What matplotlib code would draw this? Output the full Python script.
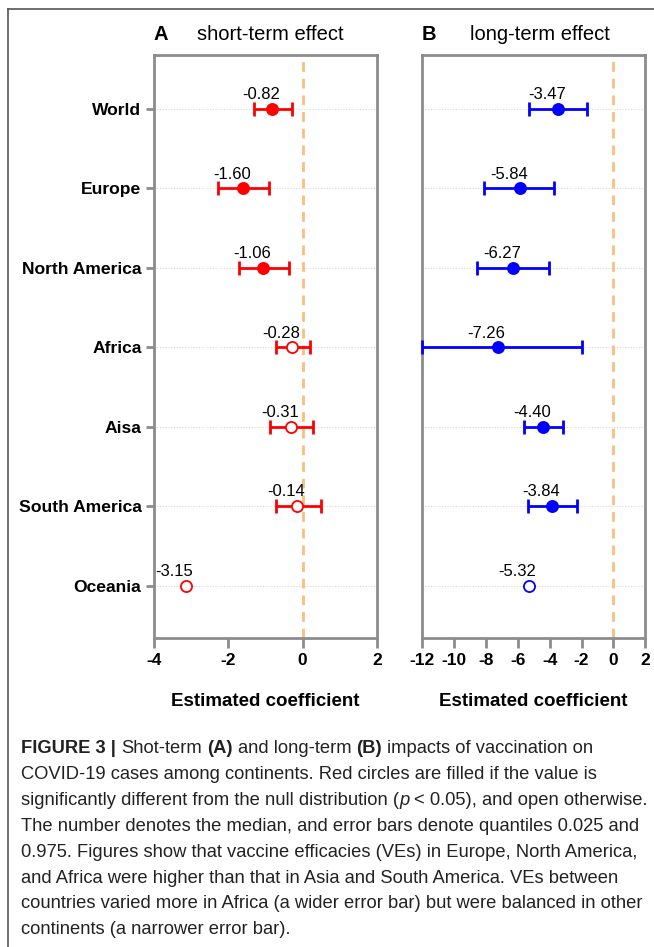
import matplotlib
matplotlib.use("Agg")
import matplotlib.pyplot as plt
from matplotlib import font_manager
from matplotlib.lines import Line2D

# ---------------- data ----------------
continents = ["World", "Europe", "North America", "Africa", "Aisa", "South America", "Oceania"]

short_median = [-0.82, -1.60, -1.06, -0.28, -0.31, -0.14, -3.15]
short_low = [-1.31, -2.29, -1.71, -0.73, -0.88, -0.73, None]
short_high = [-0.30, -0.91, -0.38, 0.20, 0.28, 0.48, None]
short_sig = [True, True, True, False, False, False, False]

long_median = [-3.47, -5.84, -6.27, -7.26, -4.40, -3.84, -5.32]
long_low = [-5.27, -8.11, -8.53, -12.0, -5.58, -5.35, None]
long_high = [-1.67, -3.70, -4.05, -1.94, -3.17, -2.30, None]
long_sig = [True, True, True, True, True, True, False]

xticks_a = [-4, -2, 0, 2]
xticks_b = [-12, -10, -8, -6, -4, -2, 0, 2]

caption_lines = [
    [("FIGURE 3 |", "bold", "normal"), ("Shot-term", "normal", "normal"), ("(A)", "bold", "normal"),
     ("and long-term", "normal", "normal"), ("(B)", "bold", "normal"),
     ("impacts of vaccination on", "normal", "normal")],
    [("COVID-19 cases among continents. Red circles are filled if the value is", "normal", "normal")],
    [("significantly different from the null distribution (", "normal", "normal"), ("p", "normal", "italic"),
     ("< 0.05), and open otherwise.", "normal", "normal")],
    [("The number denotes the median, and error bars denote quantiles 0.025 and", "normal", "normal")],
    [("0.975. Figures show that vaccine efficacies (VEs) in Europe, North America,", "normal", "normal")],
    [("and Africa were higher than that in Asia and South America. VEs between", "normal", "normal")],
    [("countries varied more in Africa (a wider error bar) but were balanced in other", "normal", "normal")],
    [("continents (a narrower error bar).", "normal", "normal")],
]

# ---------------- figure ----------------
W, H = 654, 947
fig = plt.figure(figsize=(W / 100, H / 100), dpi=100)
plt.rcParams["font.family"] = ["Liberation Sans", "DejaVu Sans"]

def px_axes(x0, y0, x1, y1):
    return fig.add_axes([x0 / W, 1 - y1 / H, (x1 - x0) / W, (y1 - y0) / H])

axA = px_axes(154, 55, 377, 638)
axB = px_axes(422, 55, 645.3, 638)

SPINE = "#8c8c8c"
ORANGE = "#F9BF80"

def draw_panel(ax, med, low, high, sig, color, xlim, xticks, show_y):
    ypos = list(range(len(continents)))
    for i in ypos:
        ax.axhline(i, color="#d9d9d9", lw=0.8, ls=(0, (1, 1.5)), zorder=0)
    ax.axvline(0, color=ORANGE, lw=2, ls=(0, (3.5, 2.5)), zorder=1)
    for i, (m, lo, hi, s) in enumerate(zip(med, low, high, sig)):
        if lo is not None:
            ax.errorbar([m], [i], xerr=[[m - lo], [hi - m]], fmt="none", ecolor=color,
                        elinewidth=2, capsize=5, capthick=2, zorder=3, clip_on=False)
        ax.plot([m], [i], "o", ms=8, mfc=color if s else "white", mec=color, mew=1.3, zorder=4)
        ax.annotate(f"{m:.2f}", (m, i), xytext=(-8, 7), textcoords="offset points",
                    ha="center", va="baseline", fontsize=12, color="black")
    ax.set_xlim(*xlim)
    ax.set_ylim(len(continents) - 1 + 0.66, -0.68)
    ax.set_xticks(xticks)
    ax.set_xticklabels([str(t) for t in xticks], fontweight="bold", fontsize=12.5)
    ax.set_yticks(ypos)
    if show_y:
        ax.set_yticklabels(continents, fontweight="bold", fontsize=12.6)
        ax.tick_params(axis="y", length=6, width=2, color=SPINE, pad=3)
    else:
        ax.set_yticklabels([])
        ax.tick_params(axis="y", length=0)
    ax.tick_params(axis="x", length=7, width=2, color=SPINE, pad=4)
    for sp in ax.spines.values():
        sp.set_color(SPINE)
        sp.set_linewidth(2)
    ax.set_xlabel("Estimated coefficient", fontweight="bold", fontsize=13.5, labelpad=18)

draw_panel(axA, short_median, short_low, short_high, short_sig, "#FF0000", (-4, 2), xticks_a, True)
draw_panel(axB, long_median, long_low, long_high, long_sig, "#0000FF", (-12, 2), xticks_b, False)

# titles
fig.text(153 / W, 1 - 34 / H, "A", fontweight="bold", fontsize=14.5, va="center", ha="left")
fig.text(197 / W, 1 - 34 / H, "short-term effect", fontsize=14.5, va="center", ha="left")
fig.text(422 / W, 1 - 34 / H, "B", fontweight="bold", fontsize=14.5, va="center", ha="left")
fig.text(470 / W, 1 - 34 / H, "long-term effect", fontsize=14.5, va="center", ha="left")

# frame lines
fig.add_artist(Line2D([8 / W, 8 / W], [1 - 9 / H, 0], transform=fig.transFigure, color="#555555", lw=1.2))
fig.add_artist(Line2D([8 / W, 1], [1 - 9 / H, 1 - 9 / H], transform=fig.transFigure, color="#555555", lw=1.2))

# caption
avail = {f.name for f in font_manager.fontManager.ttflist}
cap_family = "Liberation Sans Narrow" if "Liberation Sans Narrow" in avail else "Liberation Sans"
renderer = fig.canvas.get_renderer()

def tw(s, size, weight="normal", style="normal"):
    t = fig.text(0, 0, s, fontsize=size, fontweight=weight, fontstyle=style, family=cap_family)
    w = t.get_window_extent(renderer).width
    t.remove()
    return w

cap_size = 12.0
target = 626
line3 = "significantly different from the null distribution (p < 0.05), and open otherwise."
cap_size = cap_size * target / tw(line3, cap_size)
space_w = tw("a a", cap_size) - tw("aa", cap_size)

x_start = 21
baseline0 = 753
step = 25.9
for li, segs in enumerate(caption_lines):
    x = x_start
    y = baseline0 + li * step
    for si, (s, wgt, sty) in enumerate(segs):
        if si > 0:
            prev = segs[si - 1][0]
            if not prev.endswith("("):
                x += space_w
        fig.text(x / W, 1 - y / H, s, fontsize=cap_size, fontweight=wgt, fontstyle=sty,
                 family=cap_family, va="baseline", ha="left", color="#222222")
        x += tw(s, cap_size, wgt, sty)

fig.savefig("out.png", dpi=100)
